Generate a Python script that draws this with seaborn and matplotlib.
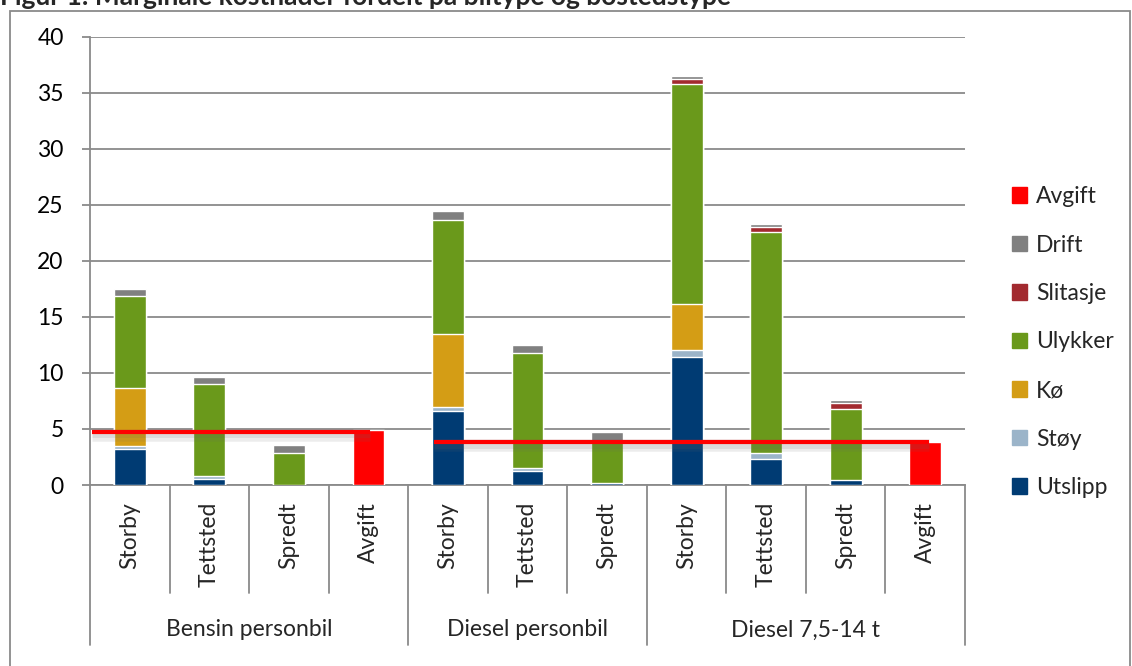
import numpy as np
import pandas as pd
import matplotlib
matplotlib.use("Agg")
import matplotlib.pyplot as plt
import seaborn as sns
from matplotlib import patheffects as pe
from matplotlib.patches import Rectangle
from matplotlib.lines import Line2D
import matplotlib.transforms as mtransforms

# ---------------- data ----------------
groups = ["Bensin personbil", "Diesel personbil", "Diesel 7,5-14 t"]
group_of_bar = ["Bensin personbil"] * 4 + ["Diesel personbil"] * 3 + ["Diesel 7,5-14 t"] * 4
sub_labels = ["Storby", "Tettsted", "Spredt", "Avgift",
              "Storby", "Tettsted", "Spredt",
              "Storby", "Tettsted", "Spredt", "Avgift"]

utslipp = [3.20, 0.56, 0.00, 0.00, 6.63, 1.22, 0.15, 11.46, 2.35, 0.45, 0.00]
stoy = [0.30, 0.27, 0.00, 0.00, 0.33, 0.30, 0.00, 0.59, 0.53, 0.00, 0.00]
ko = [5.20, 0.00, 0.00, 0.00, 6.49, 0.00, 0.00, 4.08, 0.00, 0.00, 0.00]
ulykker = [8.20, 8.17, 2.83, 0.00, 10.25, 10.24, 3.75, 19.65, 19.72, 6.36, 0.00]
slitasje = [0.00, 0.00, 0.00, 0.00, 0.00, 0.00, 0.00, 0.47, 0.47, 0.51, 0.00]
drift = [0.60, 0.60, 0.74, 0.00, 0.80, 0.77, 0.80, 0.25, 0.21, 0.24, 0.00]
avgift = [0.00, 0.00, 0.00, 4.88, 0.00, 0.00, 0.00, 0.00, 0.00, 0.00, 3.84]

avgift_levels = [4.76, 3.86]   # red reference lines (Bensin / Diesel)

series_names = ["Utslipp", "Støy", "Kø", "Ulykker", "Slitasje", "Drift", "Avgift"]
series_values = [utslipp, stoy, ko, ulykker, slitasje, drift, avgift]
series_colors = ["#003B73", "#9BB4C9", "#D49D15", "#6A991B", "#A22A2F", "#808080", "#FF0000"]

# ---------------- style ----------------
sns.set_style("white")
plt.rcParams["font.family"] = ["Lato", "DejaVu Sans"]
GRAY = "#8A8A8A"
FS = 16.5

W, H = 1132, 666
fig = plt.figure(figsize=(W / 100, H / 100), dpi=100)
ax = fig.add_axes([90 / W, 1 - 485 / H, (965 - 90) / W, (485 - 37) / H])

keys = [f"{g}|{s}|{i}" for i, (g, s) in enumerate(zip(group_of_bar, sub_labels))]
df = pd.DataFrame({"key": keys})
for n, v in zip(series_names, series_values):
    df[n] = v
cum = df[series_names].cumsum(axis=1)

# draw cumulative bars from top layer down so lower layers overlay
for name, col in reversed(list(zip(series_names, series_colors))):
    d = pd.DataFrame({"key": keys,
                      "top": np.where(df[name] > 0, cum[name], np.nan)})
    sns.barplot(data=d, x="key", y="top", order=keys, color=col, width=0.4,
                saturation=1, errorbar=None, ax=ax, zorder=3)

ax.set_xlim(-0.5, len(keys) - 0.5)
ax.set_ylim(0, 40)
ax.set_yticks(np.arange(0, 41, 5))
ax.set_xticks([])
ax.set_xlabel("")
ax.set_ylabel("")
ax.yaxis.grid(True, color=GRAY, lw=1.3, zorder=0)
ax.set_axisbelow(True)
for s in ["top", "right"]:
    ax.spines[s].set_visible(False)
for s in ["left", "bottom"]:
    ax.spines[s].set_color(GRAY)
    ax.spines[s].set_linewidth(1.3)
ax.tick_params(axis="y", length=6, width=1.3, color=GRAY, pad=13, labelsize=FS, labelcolor="black", left=True)

# red reference lines with soft shadow
line_spans = [(-0.48, 3.02), (3.82, 10.05)]
shadow = [pe.SimpleLineShadow(offset=(0, -2.5), shadow_color="0.4", alpha=0.12, linewidth=9),
          pe.SimpleLineShadow(offset=(0, -2.0), shadow_color="0.4", alpha=0.12, linewidth=5),
          pe.Normal()]
for lvl, (x0, x1) in zip(avgift_levels, line_spans):
    ax.plot([x0, x1], [lvl, lvl], color="#FF0000", lw=3, zorder=5, solid_capstyle="butt",
            path_effects=shadow)

# hierarchical category axis
trans = mtransforms.blended_transform_factory(ax.transData, ax.transAxes)
inner_bottom = -(593 - 485) / 448
group_bottom = -(645 - 485) / 448
group_bounds = [-0.5, 3.5, 6.5, 10.5]
for b in np.arange(-0.5, len(keys), 1.0):
    yb = group_bottom if any(abs(b - g) < 1e-6 for g in group_bounds) else inner_bottom
    ax.add_line(Line2D([b, b], [0, yb], transform=trans, color=GRAY, lw=1.3, clip_on=False))
for i, s in enumerate(sub_labels):
    ax.text(i, -17 / 448, s, transform=trans, rotation=90, ha="center", va="top", fontsize=FS)
for gi, g in enumerate(groups):
    xc = (group_bounds[gi] + group_bounds[gi + 1]) / 2
    ax.text(xc, -(630 - 485) / 448, g, transform=trans, ha="center", va="center", fontsize=FS)

# legend
handles = [Rectangle((0, 0), 1, 1, color=c) for c in reversed(series_colors)]
leg = fig.legend(handles, list(reversed(series_names)), loc="center left",
                 bbox_to_anchor=(1003 / W, 1 - 342 / H), frameon=False, fontsize=FS,
                 handlelength=0.65, handleheight=0.65, handletextpad=0.4, labelspacing=1.2,
                 borderaxespad=0)

# outer frame and title
fig.add_artist(Rectangle((10 / W, -0.02), (1130 - 10) / W, (H - 11) / H + 0.02,
                         transform=fig.transFigure, fill=False, edgecolor=GRAY, lw=1.3))
fig.text(0.0, 1 - 5 / H, "Figur 1: Marginale kostnader fordelt på biltype og bostedstype",
         fontsize=19, fontweight="bold", ha="left", va="baseline")

fig.savefig("out.png", dpi=100)
